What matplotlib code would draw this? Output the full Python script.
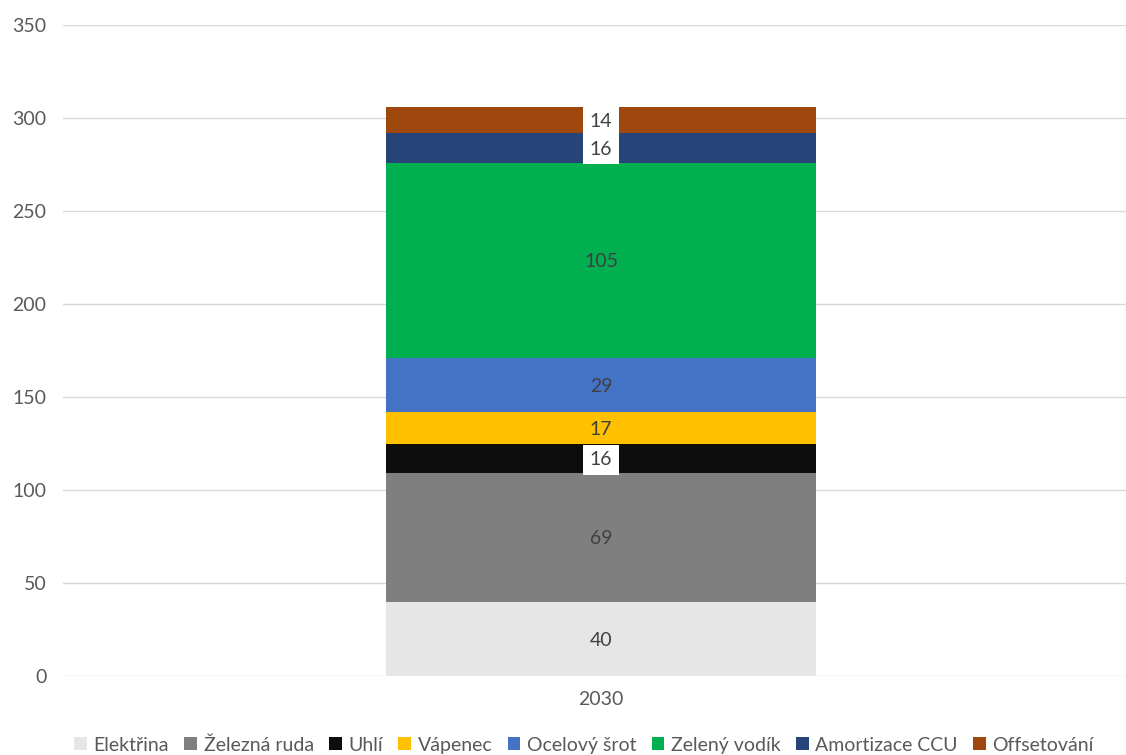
import numpy as np
import matplotlib.pyplot as plt
from matplotlib.patches import Patch

plt.rcParams['font.family'] = ['Lato', 'DejaVu Sans']

years = ['2030']
labels = ['Elektřina', 'Železná ruda', 'Uhlí', 'Vápenec', 'Ocelový šrot',
          'Zelený vodík', 'Amortizace CCU', 'Offsetování']
values = [40, 69, 16, 17, 29, 105, 16, 14]
colors = ['#e7e6e6', '#7f7f7f', '#0d0d0d', '#ffc000', '#4472c4',
          '#00b050', '#264478', '#9e480e']
# segments whose value label sits on a white box
boxed = {'Uhlí', 'Amortizace CCU', 'Offsetování'}

text_col = '#595959'

fig = plt.figure(figsize=(11.26, 7.55), dpi=100)
ax = fig.add_axes([63 / 1126, (755 - 676) / 755, (1139 - 63) / 1126, 651 / 755])

x = np.arange(len(years))
bottom = np.zeros(len(years))
for lab, val, col in zip(labels, values, colors):
    ax.bar(x, val, width=0.399, bottom=bottom, color=col, zorder=2)
    for xi, b in zip(x, bottom):
        kw = {}
        if lab in boxed:
            kw['bbox'] = dict(boxstyle='square,pad=0.33', fc='white', ec='none')
        ax.text(xi, b + val / 2, str(val), ha='center', va='center_baseline',
                fontsize=14, color='#404040', zorder=3, **kw)
    bottom += val

ax.set_xlim(-0.5, 0.5)
ax.set_ylim(0, 350)
ax.set_yticks(np.arange(0, 351, 50))
ax.set_xticks(x)
ax.set_xticklabels(years)
ax.grid(axis='y', color='#d9d9d9', linewidth=1, zorder=0)
for s in ax.spines.values():
    s.set_visible(False)
ax.tick_params(axis='both', length=0, labelsize=14, labelcolor=text_col)
ax.tick_params(axis='y', pad=12)
ax.tick_params(axis='x', pad=11)

handles = [Patch(facecolor=c, edgecolor='none') for c in colors]
fig.legend(handles, labels, loc='center', bbox_to_anchor=(584 / 1126, 10 / 755),
           ncol=len(labels), frameon=False, fontsize=14, labelcolor=text_col,
           handlelength=0.65, handleheight=0.65, handletextpad=0.35, columnspacing=0.78)

fig.savefig('out.png', dpi=100)
